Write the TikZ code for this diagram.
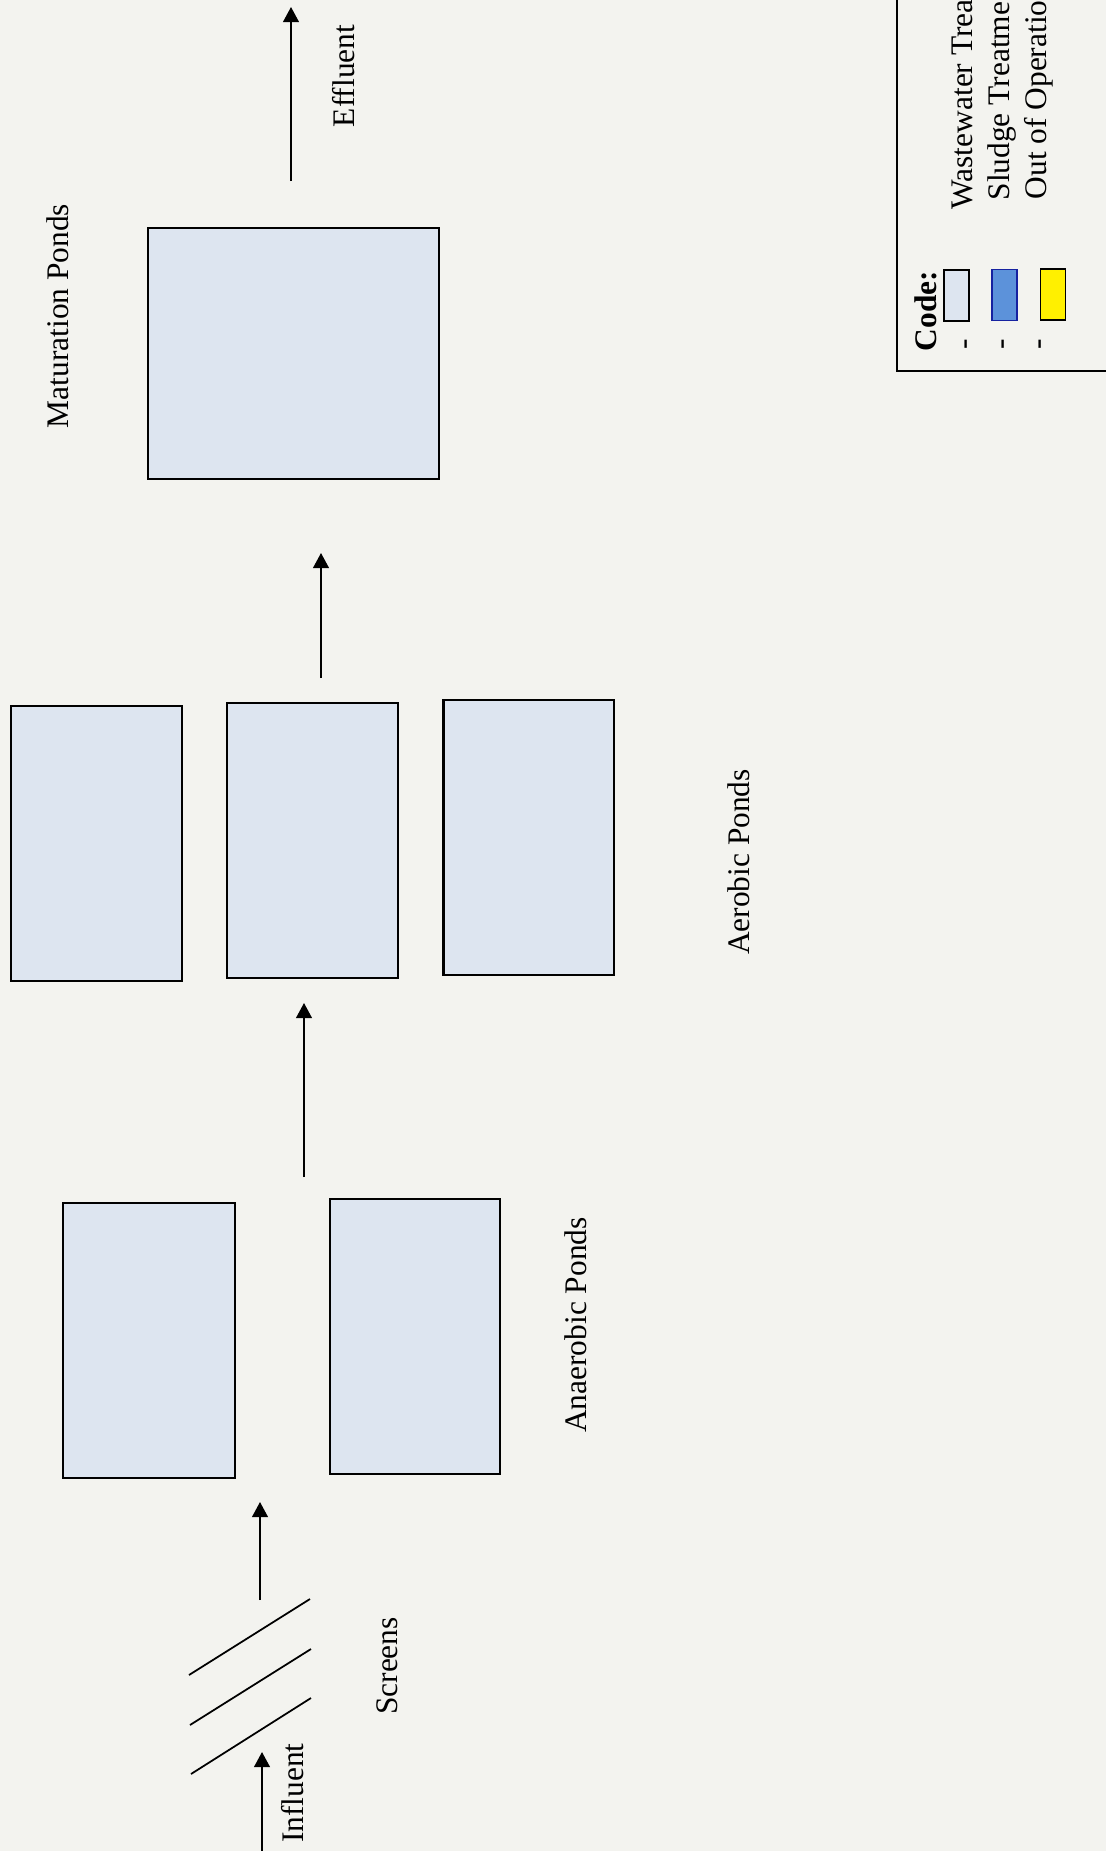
\documentclass[tikz,border=0pt]{standalone}
\usepackage{fontspec}
\setmainfont{Liberation Serif}
\usetikzlibrary{arrows.meta}

\definecolor{paper}{RGB}{243,243,239}
\definecolor{pondfill}{RGB}{221,229,240}
\definecolor{sludgefill}{RGB}{92,146,218}
\definecolor{sludgeline}{RGB}{22,34,160}
\definecolor{outfill}{RGB}{255,240,0}

\begin{document}
\begin{tikzpicture}[x=0.01cm, y=-0.01cm,
    pond/.style={draw, fill=pondfill, line width=0.6pt, inner sep=0pt},
    flow/.style={line width=0.5pt, -{Triangle[width=4.5pt, length=4.3pt]}},
    lbl/.style={font=\fontsize{8.93pt}{10.7pt}\selectfont, rotate=90, inner sep=0pt},
    swatch/.style={draw, line width=0.5pt, minimum width=0.25cm, minimum height=0.51cm, inner sep=0pt}]

    % Page and paper colour
    \useasboundingbox (0,0) rectangle (1106,1851);
    \clip (0,0) rectangle (1106,1851);
    \fill[paper] (0,0) rectangle (1106,1851);

    % Define pond nodes
    \node[pond, minimum width=2.91cm, minimum height=2.50cm] (M1) at (293.5, 353.5) {}; % Maturation pond

    \node[pond, minimum width=1.71cm, minimum height=2.75cm] (A1) at (96.5, 843.5) {};
    \node[pond, minimum width=1.71cm, minimum height=2.75cm] (A2) at (312.5, 840.5) {};
    \node[pond, minimum width=1.70cm, minimum height=2.75cm] (A3) at (528.5, 837.5) {};

    \node[pond, minimum width=1.72cm, minimum height=2.75cm] (N1) at (149, 1340.5) {};
    \node[pond, minimum width=1.70cm, minimum height=2.75cm] (N2) at (415, 1336.5) {};

    % Labels, turned to read upwards
    \node[lbl] (Mlab) at (58, 316) {Maturation Ponds}; % Left of the pond
    \node[lbl] (Elab) at (344, 76) {Effluent};
    \node[lbl] (Alab) at (739, 862) {Aerobic Ponds};
    \node[lbl] (Nlab) at (576, 1325) {Anaerobic Ponds};
    \node[lbl] (Slab) at (387, 1666) {Screens};
    \node[lbl] (Ilab) at (293, 1793) {Influent};

    % Arrow ends
    \coordinate (I0) at (262, 1860);
    \coordinate (I1) at (262, 1752);
    \coordinate (S0) at (260, 1600);
    \coordinate (S1) at (260, 1502);
    \coordinate (N0) at (304, 1177);
    \coordinate (Nb) at (304, 1003);
    \coordinate (A0) at (321, 678);
    \coordinate (Ab) at (321, 553);
    \coordinate (E0) at (291, 181);
    \coordinate (E1) at (291, 7);

    % Draw flow arrows
    \draw[flow] (I0) -- (I1); % Influent
    \draw[flow] (S0) -- (S1); % Screens to anaerobic
    \draw[flow] (N0) -- (Nb); % Anaerobic to aerobic
    \draw[flow] (A0) -- (Ab); % Aerobic to maturation
    \draw[flow] (E0) -- (E1); % Effluent

    % Screens as three slanted bars
    \draw[line width=0.5pt] (189, 1675) -- (310, 1599);
    \draw[line width=0.5pt] (190, 1725) -- (311, 1649);
    \draw[line width=0.5pt] (191, 1774) -- (311, 1698);

    % Legend box
    \draw[line width=0.55pt] (897, -20) rectangle (1130, 371);
    \node[lbl] (Code) at (926, 311) {\textbf{Code:}};

    \node[swatch, fill=pondfill] (K1) at (956.5, 295.5) {};
    \node[swatch, fill=sludgefill, draw=sludgeline] (K2) at (1004.5, 295) {};
    \node[swatch, fill=outfill] (K3) at (1053, 294.5) {};

    \node[lbl, anchor=base] (D1) at (973, 344) {-};
    \node[lbl, anchor=base] (D2) at (1010, 344) {-};
    \node[lbl, anchor=base] (D3) at (1047, 344) {-};

    \node[lbl, anchor=base west] (T1) at (972, 210) {Wastewater Trea}; % Cut at the top edge
    \node[lbl, anchor=base west] (T2) at (1009, 201) {Sludge Treatme};
    \node[lbl, anchor=base west] (T3) at (1046, 200) {Out of Operatio};

\end{tikzpicture}
\end{document}
